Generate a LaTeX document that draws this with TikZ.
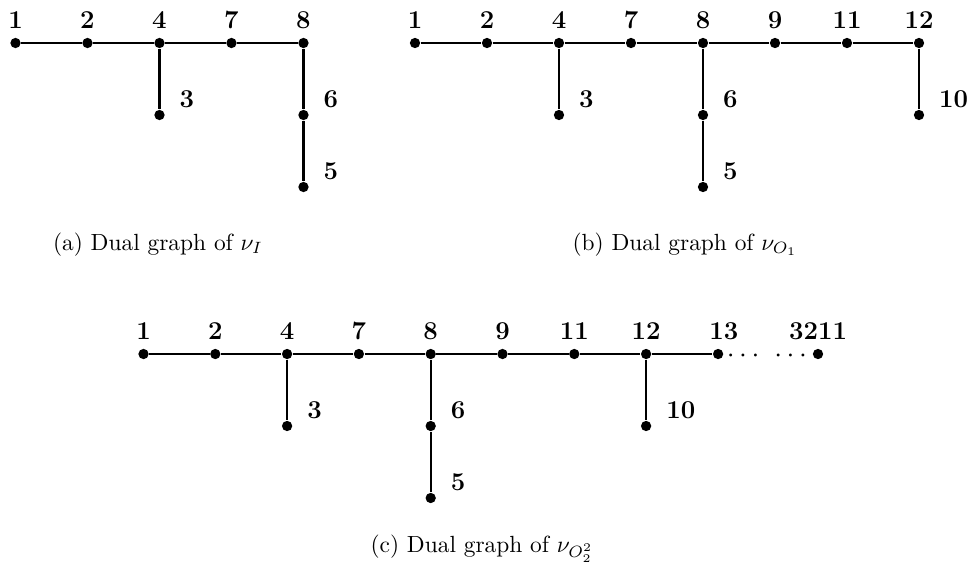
\documentclass[tikz,border=0pt]{standalone}
\usepackage{amsmath}
\usepackage{tikz}
\usetikzlibrary{positioning}
\newcommand{\lblfont}{\fontsize{11}{13}\selectfont\bfseries}
\tikzset{
  vtx/.style    ={circle,fill=black,inner sep=0pt,minimum size=4.4pt},
  lnk/.style    ={line width=0.9pt,black},
  tlbl/.style   ={label={[font=\lblfont,label distance=0.3pt]above:#1}},
  rlbl/.style   ={label={[font=\lblfont,label distance=2.7pt,yshift=6.6pt]right:#1}},
  dots/.style   ={font=\large,inner sep=0pt,anchor=base},
  captxt/.style ={anchor=base,inner sep=0pt},
}

\begin{document}
\begin{tikzpicture}[x=0.4274pt,y=-0.4274pt,node distance=30.77pt,on grid]
\useasboundingbox (0,0) rectangle (974,580);

%% (a)
\node[vtx,tlbl=1] (a1) at (15.5,43) {};
\node[vtx,tlbl=2,right=of a1] (a2) {};
\node[vtx,tlbl=4,right=of a2] (a4) {};
\node[vtx,tlbl=7,right=of a4] (a7) {};
\node[vtx,tlbl=8,right=of a7] (a8) {};
\node[vtx,rlbl=3,below=of a4] (a3) {};
\node[vtx,rlbl=6,below=of a8] (a6) {};
\node[vtx,rlbl=5,below=of a6] (a5) {};
\draw[lnk] (a1) -- (a2) -- (a4) -- (a7) -- (a8) -- (a6) -- (a5);
\draw[lnk] (a4) -- (a3);
\node[captxt] (capa) at (158,250) {(a) Dual graph of $\nu_I$};

%% (b)
\foreach \n [count=\k] in {1,2,4,7,8,9,11,12}
  \node[vtx,tlbl=\n] (b\n) at ({415+72*(\k-1)},43) {};
\node[vtx,rlbl=3,below=of b4] (b3) {};
\node[vtx,rlbl=6,below=of b8] (b6) {};
\node[vtx,rlbl=5,below=of b6] (b5) {};
\node[vtx,rlbl=10,below=of b12] (b10) {};
\foreach \p/\q in {1/2,2/4,4/7,7/8,8/9,9/11,11/12,4/3,8/6,6/5,12/10}
  \draw[lnk] (b\p) -- (b\q);
\node[captxt] (capb) at (685,250) {(b) Dual graph of $\nu_{O_1}$};

%% (c)
\foreach \n [count=\k] in {1,2,4,7,8,9,11,12}
  \node[vtx,tlbl=\n] (c\n) at ({143.5+71.8*(\k-1)},354) {};
\node[vtx,label={[font=\lblfont,label distance=0.3pt,xshift=2.5pt]above:13},right=of c12] (c13) {};
\node[vtx,tlbl=3211] (c3211) at (818,354) {};
\node[vtx,rlbl=3,below=of c4] (c3) {};
\node[vtx,rlbl=6,below=of c8] (c6) {};
\node[vtx,rlbl=5,below=of c6] (c5) {};
\node[vtx,rlbl=10,below=of c12] (c10) {};
\foreach \p/\q in {1/2,2/4,4/7,7/8,8/9,9/11,11/12,12/13,4/3,8/6,6/5,12/10}
  \draw[lnk] (c\p) -- (c\q);
\node[dots] (dl) at (745.5,362) {$\cdots$};
\node[dots] (dr) at (793,362) {$\cdots$};
\node[captxt] (capc) at (482,552) {(c) Dual graph of $\nu_{O_2^2}$};
\end{tikzpicture}
\end{document}
